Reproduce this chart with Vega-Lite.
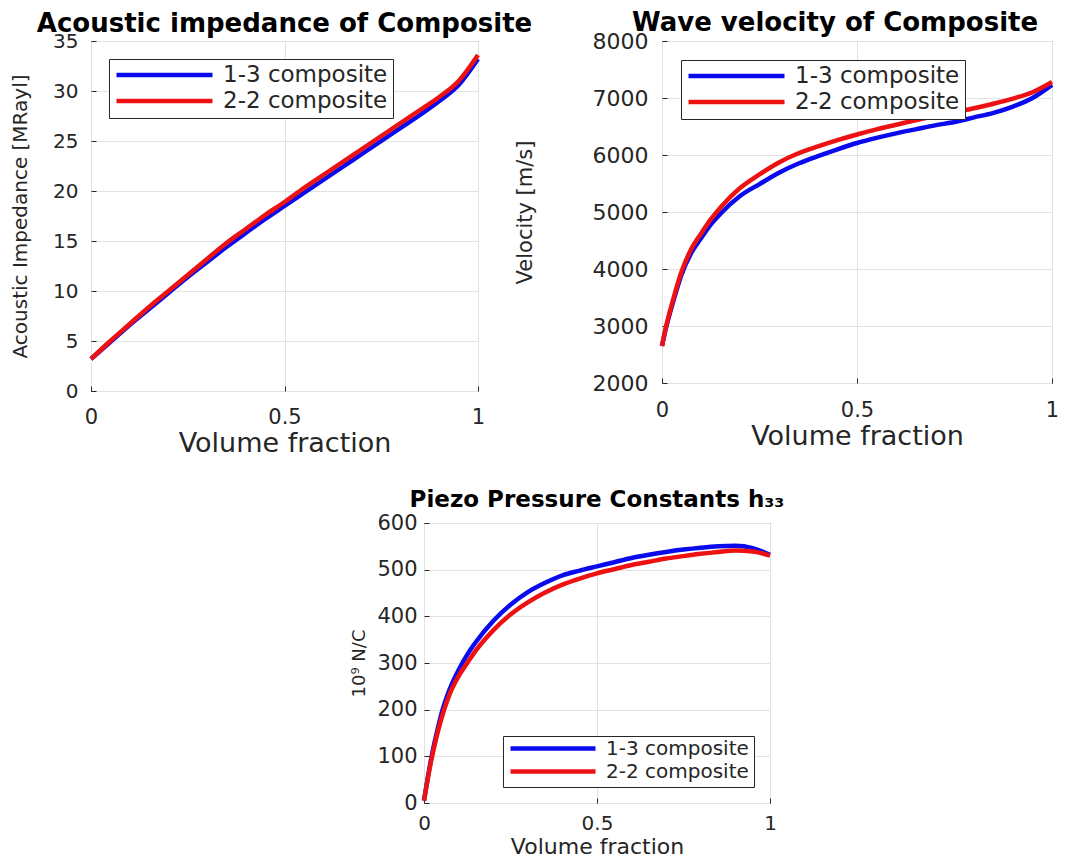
{
  "$schema": "https://vega.github.io/schema/vega-lite/v6.json",
  "background": "white",
  "padding": {"left": 10, "top": 9, "right": 5, "bottom": 2},
  "config": {
    "font": "DejaVu Sans",
    "view": {"stroke": "#262626", "strokeWidth": 1},
    "axis": {
      "grid": true,
      "gridColor": "#e2e2e2",
      "gridWidth": 1,
      "domain": false,
      "ticks": true,
      "tickSize": -5,
      "tickColor": "#262626",
      "labelColor": "#262626",
      "titleColor": "#262626",
      "labelFont": "DejaVu Sans",
      "titleFont": "DejaVu Sans",
      "titleFontWeight": "normal",
      "labelFlush": false,
      "labelOverlap": false
    },
    "legend": {
      "title": null,
      "symbolType": "stroke",
      "symbolStrokeWidth": 4.5,
      "strokeColor": "#262626",
      "fillColor": "white",
      "padding": 5,
      "rowPadding": 3,
      "labelFont": "DejaVu Sans",
      "labelColor": "#262626",
      "labelOffset": 8,
      "labelLimit": 400
    },
    "title": {
      "font": "DejaVu Sans",
      "fontWeight": "bold",
      "color": "black",
      "anchor": "middle",
      "baseline": "alphabetic",
      "offset": -6
    },
    "line": {"strokeWidth": 4.5, "interpolate": "monotone"}
  },
  "datasets": {
    "impedance": [
      {"vf": 0, "series": "1-3 composite", "value": 3.2},
      {"vf": 0.05, "series": "1-3 composite", "value": 4.9},
      {"vf": 0.1, "series": "1-3 composite", "value": 6.6},
      {"vf": 0.15, "series": "1-3 composite", "value": 8.2},
      {"vf": 0.2, "series": "1-3 composite", "value": 9.8},
      {"vf": 0.25, "series": "1-3 composite", "value": 11.4},
      {"vf": 0.3, "series": "1-3 composite", "value": 12.9},
      {"vf": 0.35, "series": "1-3 composite", "value": 14.4},
      {"vf": 0.4, "series": "1-3 composite", "value": 15.8},
      {"vf": 0.45, "series": "1-3 composite", "value": 17.2},
      {"vf": 0.5, "series": "1-3 composite", "value": 18.5},
      {"vf": 0.55, "series": "1-3 composite", "value": 19.8},
      {"vf": 0.6, "series": "1-3 composite", "value": 21.1},
      {"vf": 0.65, "series": "1-3 composite", "value": 22.4},
      {"vf": 0.7, "series": "1-3 composite", "value": 23.7},
      {"vf": 0.75, "series": "1-3 composite", "value": 25.0},
      {"vf": 0.8, "series": "1-3 composite", "value": 26.3},
      {"vf": 0.85, "series": "1-3 composite", "value": 27.6},
      {"vf": 0.9, "series": "1-3 composite", "value": 29.0},
      {"vf": 0.95, "series": "1-3 composite", "value": 30.6},
      {"vf": 1.0, "series": "1-3 composite", "value": 33.2},
      {"vf": 0, "series": "2-2 composite", "value": 3.2},
      {"vf": 0.05, "series": "2-2 composite", "value": 5.0},
      {"vf": 0.1, "series": "2-2 composite", "value": 6.7},
      {"vf": 0.15, "series": "2-2 composite", "value": 8.4},
      {"vf": 0.2, "series": "2-2 composite", "value": 10.0},
      {"vf": 0.25, "series": "2-2 composite", "value": 11.6},
      {"vf": 0.3, "series": "2-2 composite", "value": 13.2},
      {"vf": 0.35, "series": "2-2 composite", "value": 14.8},
      {"vf": 0.4, "series": "2-2 composite", "value": 16.2},
      {"vf": 0.45, "series": "2-2 composite", "value": 17.6},
      {"vf": 0.5, "series": "2-2 composite", "value": 18.9},
      {"vf": 0.55, "series": "2-2 composite", "value": 20.3},
      {"vf": 0.6, "series": "2-2 composite", "value": 21.6},
      {"vf": 0.65, "series": "2-2 composite", "value": 22.9},
      {"vf": 0.7, "series": "2-2 composite", "value": 24.2},
      {"vf": 0.75, "series": "2-2 composite", "value": 25.5},
      {"vf": 0.8, "series": "2-2 composite", "value": 26.8},
      {"vf": 0.85, "series": "2-2 composite", "value": 28.1},
      {"vf": 0.9, "series": "2-2 composite", "value": 29.4},
      {"vf": 0.95, "series": "2-2 composite", "value": 31.0},
      {"vf": 1.0, "series": "2-2 composite", "value": 33.6}
    ],
    "velocity": [
      {"vf": 0, "series": "1-3 composite", "value": 2650},
      {"vf": 0.01, "series": "1-3 composite", "value": 2960},
      {"vf": 0.02, "series": "1-3 composite", "value": 3220},
      {"vf": 0.03, "series": "1-3 composite", "value": 3460},
      {"vf": 0.05, "series": "1-3 composite", "value": 3900},
      {"vf": 0.075, "series": "1-3 composite", "value": 4280},
      {"vf": 0.1, "series": "1-3 composite", "value": 4540},
      {"vf": 0.125, "series": "1-3 composite", "value": 4780},
      {"vf": 0.15, "series": "1-3 composite", "value": 4970},
      {"vf": 0.2, "series": "1-3 composite", "value": 5280},
      {"vf": 0.25, "series": "1-3 composite", "value": 5490},
      {"vf": 0.3, "series": "1-3 composite", "value": 5690},
      {"vf": 0.35, "series": "1-3 composite", "value": 5850},
      {"vf": 0.4, "series": "1-3 composite", "value": 5980},
      {"vf": 0.45, "series": "1-3 composite", "value": 6100},
      {"vf": 0.5, "series": "1-3 composite", "value": 6210},
      {"vf": 0.55, "series": "1-3 composite", "value": 6300},
      {"vf": 0.6, "series": "1-3 composite", "value": 6380},
      {"vf": 0.65, "series": "1-3 composite", "value": 6450},
      {"vf": 0.7, "series": "1-3 composite", "value": 6520},
      {"vf": 0.75, "series": "1-3 composite", "value": 6580},
      {"vf": 0.8, "series": "1-3 composite", "value": 6660},
      {"vf": 0.85, "series": "1-3 composite", "value": 6740},
      {"vf": 0.9, "series": "1-3 composite", "value": 6850},
      {"vf": 0.95, "series": "1-3 composite", "value": 7000},
      {"vf": 1.0, "series": "1-3 composite", "value": 7230},
      {"vf": 0, "series": "2-2 composite", "value": 2650},
      {"vf": 0.01, "series": "2-2 composite", "value": 2980},
      {"vf": 0.02, "series": "2-2 composite", "value": 3250},
      {"vf": 0.03, "series": "2-2 composite", "value": 3500},
      {"vf": 0.05, "series": "2-2 composite", "value": 3950},
      {"vf": 0.075, "series": "2-2 composite", "value": 4350},
      {"vf": 0.1, "series": "2-2 composite", "value": 4620},
      {"vf": 0.125, "series": "2-2 composite", "value": 4870},
      {"vf": 0.15, "series": "2-2 composite", "value": 5080},
      {"vf": 0.2, "series": "2-2 composite", "value": 5420},
      {"vf": 0.25, "series": "2-2 composite", "value": 5660},
      {"vf": 0.3, "series": "2-2 composite", "value": 5870},
      {"vf": 0.35, "series": "2-2 composite", "value": 6030},
      {"vf": 0.4, "series": "2-2 composite", "value": 6150},
      {"vf": 0.45, "series": "2-2 composite", "value": 6260},
      {"vf": 0.5, "series": "2-2 composite", "value": 6360},
      {"vf": 0.55, "series": "2-2 composite", "value": 6450},
      {"vf": 0.6, "series": "2-2 composite", "value": 6530},
      {"vf": 0.65, "series": "2-2 composite", "value": 6610},
      {"vf": 0.7, "series": "2-2 composite", "value": 6680},
      {"vf": 0.75, "series": "2-2 composite", "value": 6750},
      {"vf": 0.8, "series": "2-2 composite", "value": 6820},
      {"vf": 0.85, "series": "2-2 composite", "value": 6900},
      {"vf": 0.9, "series": "2-2 composite", "value": 6990},
      {"vf": 0.95, "series": "2-2 composite", "value": 7100},
      {"vf": 1.0, "series": "2-2 composite", "value": 7280}
    ],
    "h33": [
      {"vf": 0, "series": "1-3 composite", "value": 5},
      {"vf": 0.01, "series": "1-3 composite", "value": 50},
      {"vf": 0.02, "series": "1-3 composite", "value": 92},
      {"vf": 0.03, "series": "1-3 composite", "value": 128},
      {"vf": 0.04, "series": "1-3 composite", "value": 160},
      {"vf": 0.05, "series": "1-3 composite", "value": 190},
      {"vf": 0.075, "series": "1-3 composite", "value": 245},
      {"vf": 0.1, "series": "1-3 composite", "value": 285},
      {"vf": 0.125, "series": "1-3 composite", "value": 318},
      {"vf": 0.15, "series": "1-3 composite", "value": 345},
      {"vf": 0.2, "series": "1-3 composite", "value": 390},
      {"vf": 0.25, "series": "1-3 composite", "value": 425},
      {"vf": 0.3, "series": "1-3 composite", "value": 452},
      {"vf": 0.35, "series": "1-3 composite", "value": 472},
      {"vf": 0.4, "series": "1-3 composite", "value": 488},
      {"vf": 0.45, "series": "1-3 composite", "value": 498},
      {"vf": 0.5, "series": "1-3 composite", "value": 507},
      {"vf": 0.55, "series": "1-3 composite", "value": 516},
      {"vf": 0.6, "series": "1-3 composite", "value": 525},
      {"vf": 0.65, "series": "1-3 composite", "value": 532},
      {"vf": 0.7, "series": "1-3 composite", "value": 538},
      {"vf": 0.75, "series": "1-3 composite", "value": 543},
      {"vf": 0.8, "series": "1-3 composite", "value": 547},
      {"vf": 0.85, "series": "1-3 composite", "value": 550},
      {"vf": 0.9, "series": "1-3 composite", "value": 551},
      {"vf": 0.95, "series": "1-3 composite", "value": 546},
      {"vf": 1.0, "series": "1-3 composite", "value": 532},
      {"vf": 0, "series": "2-2 composite", "value": 5},
      {"vf": 0.01, "series": "2-2 composite", "value": 48},
      {"vf": 0.02, "series": "2-2 composite", "value": 88},
      {"vf": 0.03, "series": "2-2 composite", "value": 122},
      {"vf": 0.04, "series": "2-2 composite", "value": 153},
      {"vf": 0.05, "series": "2-2 composite", "value": 180},
      {"vf": 0.075, "series": "2-2 composite", "value": 235},
      {"vf": 0.1, "series": "2-2 composite", "value": 272},
      {"vf": 0.125, "series": "2-2 composite", "value": 300},
      {"vf": 0.15, "series": "2-2 composite", "value": 327},
      {"vf": 0.2, "series": "2-2 composite", "value": 370},
      {"vf": 0.25, "series": "2-2 composite", "value": 404},
      {"vf": 0.3, "series": "2-2 composite", "value": 430},
      {"vf": 0.35, "series": "2-2 composite", "value": 451},
      {"vf": 0.4, "series": "2-2 composite", "value": 468},
      {"vf": 0.45, "series": "2-2 composite", "value": 481},
      {"vf": 0.5, "series": "2-2 composite", "value": 492},
      {"vf": 0.55, "series": "2-2 composite", "value": 501},
      {"vf": 0.6, "series": "2-2 composite", "value": 510},
      {"vf": 0.65, "series": "2-2 composite", "value": 517},
      {"vf": 0.7, "series": "2-2 composite", "value": 524},
      {"vf": 0.75, "series": "2-2 composite", "value": 529},
      {"vf": 0.8, "series": "2-2 composite", "value": 534},
      {"vf": 0.85, "series": "2-2 composite", "value": 538},
      {"vf": 0.9, "series": "2-2 composite", "value": 541},
      {"vf": 0.95, "series": "2-2 composite", "value": 539},
      {"vf": 1.0, "series": "2-2 composite", "value": 530}
    ]
  },
  "vconcat": [
    {
      "hconcat": [
        {
          "width": 387,
          "height": 350,
          "data": {"name": "impedance"},
          "title": {"text": "Acoustic impedance of Composite", "fontSize": 26},
          "mark": "line",
          "encoding": {
            "x": {
              "field": "vf", "type": "quantitative",
              "scale": {"domain": [0, 1], "nice": false},
              "axis": {"title": "Volume fraction", "values": [0, 0.5, 1], "format": "~g",
                       "labelFontSize": 21, "titleFontSize": 27, "labelPadding": 20, "titlePadding": 3}
            },
            "y": {
              "field": "value", "type": "quantitative",
              "scale": {"domain": [0, 35], "nice": false},
              "axis": {"title": "Acoustic Impedance [MRayl]", "values": [0, 5, 10, 15, 20, 25, 30, 35],
                       "labelFontSize": 20, "titleFontSize": 20, "labelPadding": 18, "titlePadding": 22}
            },
            "color": {
              "field": "series", "type": "nominal",
              "scale": {"domain": ["1-3 composite", "2-2 composite"], "range": ["#0a0aee", "#ee1111"]},
              "legend": {"orient": "top-left", "offset": 18, "labelFontSize": 23, "symbolSize": 9216, "clipHeight": 22}
            }
          }
        },
        {
          "width": 390,
          "height": 342,
          "data": {"name": "velocity"},
          "title": {"text": "Wave velocity of Composite", "fontSize": 26, "dx": -22},
          "mark": "line",
          "encoding": {
            "x": {
              "field": "vf", "type": "quantitative",
              "scale": {"domain": [0, 1], "nice": false},
              "axis": {"title": "Volume fraction", "values": [0, 0.5, 1], "format": "~g",
                       "labelFontSize": 21, "titleFontSize": 27, "labelPadding": 21, "titlePadding": 3}
            },
            "y": {
              "field": "value", "type": "quantitative",
              "scale": {"domain": [2000, 8000], "nice": false},
              "axis": {"title": "Velocity [m/s]", "values": [2000, 3000, 4000, 5000, 6000, 7000, 8000], "format": "d",
                       "labelFontSize": 22, "titleFontSize": 21, "labelPadding": 19, "titlePadding": 57}
            },
            "color": {
              "field": "series", "type": "nominal",
              "scale": {"domain": ["1-3 composite", "2-2 composite"], "range": ["#0a0aee", "#ee1111"]},
              "legend": {"orient": "top-left", "offset": 19, "labelFontSize": 23, "symbolSize": 9216, "clipHeight": 22}
            }
          }
        }
      ],
      "spacing": 184,
      "bounds": "flush",
      "resolve": {"scale": {"color": "independent"}, "legend": {"color": "independent"}}
    },
    {
      "hconcat": [
        {
          "width": 313,
          "height": 10,
          "data": {"values": []},
          "mark": "point",
          "view": {"stroke": null, "fill": "white"}
        },
        {
          "width": 346,
          "height": 280,
          "data": {"name": "h33"},
          "title": {"text": "Piezo Pressure Constants h₃₃", "fontSize": 23, "offset": 0},
          "mark": "line",
          "encoding": {
            "x": {
              "field": "vf", "type": "quantitative",
              "scale": {"domain": [0, 1], "nice": false},
              "axis": {"title": "Volume fraction", "values": [0, 0.5, 1], "format": "~g",
                       "labelFontSize": 20, "titleFontSize": 22, "labelPadding": 15, "titlePadding": 3}
            },
            "y": {
              "field": "value", "type": "quantitative",
              "scale": {"domain": [0, 600], "nice": false},
              "axis": {"title": "10⁹ N/C", "values": [0, 100, 200, 300, 400, 500, 600],
                       "labelFontSize": 21, "titleFontSize": 18, "labelPadding": 12, "titlePadding": 8}
            },
            "color": {
              "field": "series", "type": "nominal",
              "scale": {"domain": ["1-3 composite", "2-2 composite"], "range": ["#0a0aee", "#ee1111"]},
              "legend": {"orient": "bottom-right", "offset": 16, "labelFontSize": 20, "symbolSize": 7225, "clipHeight": 15, "rowPadding": 2}
            }
          }
        }
      ],
      "spacing": 20,
      "bounds": "flush",
      "resolve": {"scale": {"color": "independent"}, "legend": {"color": "independent"}}
    }
  ],
  "spacing": 31,
  "bounds": "full",
  "resolve": {"scale": {"color": "independent"}, "legend": {"color": "independent"}}
}
